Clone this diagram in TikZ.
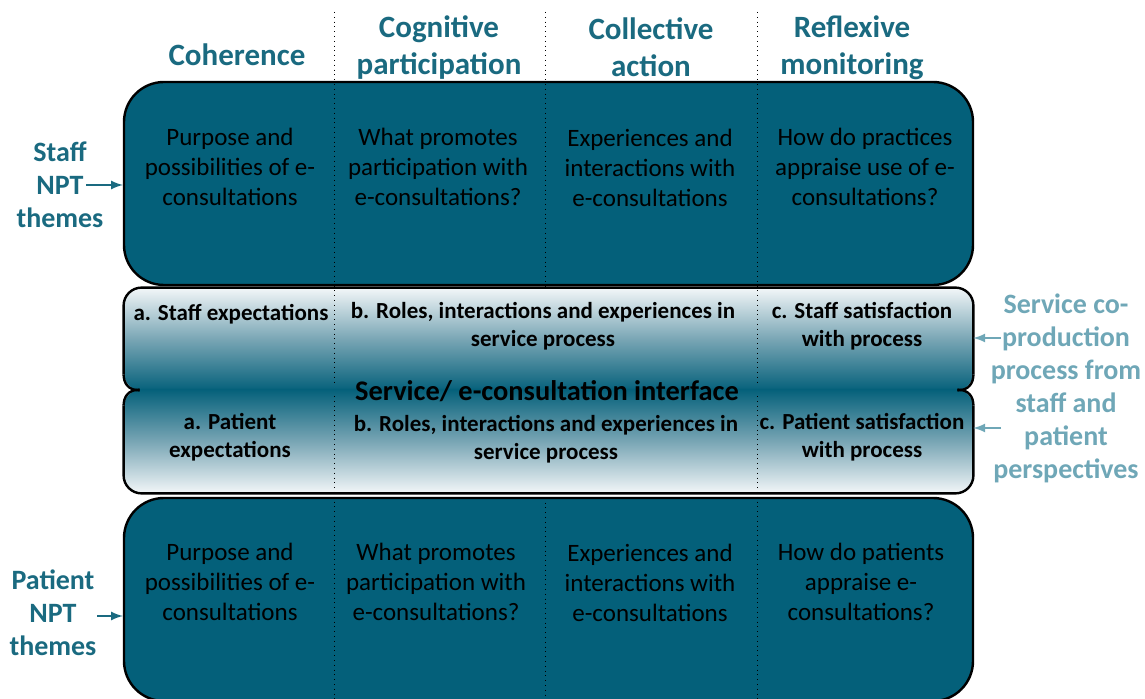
\documentclass[tikz,border=0pt]{standalone}
\usepackage{fontspec}
\setmainfont{Carlito}
\usepackage{tikz}
\usepackage{xcolor}
\usetikzlibrary{calc}

\definecolor{boxteal}{HTML}{04607A}
\definecolor{headteal}{HTML}{1A6A80}
\definecolor{paleteal}{HTML}{6FA7B7}
\definecolor{midteal}{HTML}{78A5B4}
\definecolor{nearwhite}{HTML}{F2F6F8}

\begin{document}
\begin{tikzpicture}[x=0.5pt,y=-0.5pt]
    \tikzstyle{every node}=[inner sep=0pt,align=center]
    \tikzstyle{head}=[font=\fontsize{15.5}{18.5}\selectfont\bfseries,text=headteal]
    \tikzstyle{cell}=[font=\fontsize{12.5}{15}\selectfont,text=black]
    \tikzstyle{midcell}=[font=\fontsize{11.5}{14.2}\selectfont\bfseries,text=black]
    \tikzstyle{sidelab}=[font=\fontsize{14}{16.5}\selectfont\bfseries]
    \tikzstyle{bigbox}=[draw=black,line width=1.2pt,fill=boxteal,rounded corners=20pt,minimum width=424.5pt,minimum height=101.5pt]
    \tikzstyle{midbox}=[rounded corners=9pt,minimum width=424.5pt]
    \tikzstyle{rim}=[black,line width=1.2pt]
    \tikzstyle{colline}=[black,dotted,line width=0.4pt]
    \tikzstyle{arr}=[->,>=latex,line width=1pt]

    \useasboundingbox (0,0) rectangle (1145,699);

    % boxes
    \node[bigbox] (staffbox) at (548.5,183.5) {};
    \node[midbox,minimum height=51.5pt,top color=nearwhite,bottom color=boxteal,middle color=midteal] (staffmid) at (548.5,339.5) {};
    \node[midbox,minimum height=52pt,top color=boxteal,bottom color=nearwhite,middle color=midteal] (patmid) at (548.5,441) {};
    \node[bigbox] (patbox) at (548.5,599.5) {};

    % outline of the two middle boxes, open where they meet
    \draw[rim,rounded corners=9pt] ($(staffmid.south west)+(0,-17)$) -- (staffmid.north west) -- (staffmid.north east) -- ($(staffmid.south east)+(0,-17)$);
    \draw[rim] ($(staffmid.south west)+(0,-17)$) .. controls +(0,8) and +(-12,0) .. ($(staffmid.south west)+(16,-1)$);
    \draw[rim] ($(staffmid.south east)+(0,-17)$) .. controls +(0,8) and +(12,0) .. ($(staffmid.south east)+(-16,-1)$);
    \draw[rim,rounded corners=9pt] ($(patmid.north west)+(0,17)$) -- (patmid.south west) -- (patmid.south east) -- ($(patmid.north east)+(0,17)$);
    \draw[rim] ($(patmid.north west)+(0,17)$) .. controls +(0,-8) and +(-12,0) .. ($(patmid.north west)+(16,1)$);
    \draw[rim] ($(patmid.north east)+(0,17)$) .. controls +(0,-8) and +(12,0) .. ($(patmid.north east)+(-16,1)$);

    % column lines
    \draw[colline] (334,12) -- (334,383);
    \draw[colline] (334,396) -- (334,699);
    \draw[colline] (757,12) -- (757,385);
    \draw[colline] (757,396) -- (757,699);
    \draw[colline] (545,12) -- (545,288);
    \draw[colline] (545,493) -- (545,699);

    % headers
    \node[head] (coh) at (237,55) {Coherence};
    \node[head] (cog) at (439,47.5) {Cognitive\\participation};
    \node[head] (col) at (651,47) {Collective\\action};
    \node[head] (ref) at (852,47.5) {Reflexive\\monitoring};

    % staff row
    \node[cell] (s1) at (230,167) {Purpose and\\possibilities of e-\\consultations};
    \node[cell] (s2) at (438,167) {What promotes\\participation with\\e-consultations?};
    \node[cell] (s3) at (650,168) {Experiences and\\interactions with\\e-consultations};
    \node[cell] (s4) at (865,167) {How do practices\\appraise use of e-\\consultations?};

    % interface
    \node[midcell] (sa) at (231,314) {a. Staff expectations};
    \node[midcell] (sb) at (543,326) {b. Roles, interactions and experiences in\\service process};
    \node[midcell] (sc) at (862,326) {c. Staff satisfaction\\with process};
    \node[font=\fontsize{14.2}{16}\selectfont\bfseries] (iface) at (547,391) {Service/ e-consultation interface};
    \node[midcell] (pa) at (230,437) {a. Patient\\expectations};
    \node[midcell] (pb) at (546,439) {b. Roles, interactions and experiences in\\service process};
    \node[midcell] (pc) at (862,437) {c. Patient satisfaction\\with process};

    % patient row
    \node[cell] (p1) at (230,582) {Purpose and\\possibilities of e-\\consultations};
    \node[cell] (p2) at (436,582) {What promotes\\participation with\\e-consultations?};
    \node[cell] (p3) at (650,583) {Experiences and\\interactions with\\e-consultations};
    \node[cell] (p4) at (861,582) {How do patients\\appraise e-\\consultations?};

    % side labels
    \node[sidelab,text=headteal] (staffnpt) at (60,185) {Staff\\NPT\\themes};
    \node[sidelab,text=headteal] (patnpt) at (53,613) {Patient\\NPT\\themes};
    \node[sidelab,text=paleteal] (coprod) at (1066,388) {Service co-\\production\\process from\\staff and\\patient\\perspectives};

    \coordinate (staffarr) at (86,185);
    \coordinate (patarr) at (97,616);
    \coordinate (coarr1) at (1001,338);
    \coordinate (coarr2) at (1001,428);
    \draw[arr,headteal] (staffarr) -- (staffarr -| staffbox.west);
    \draw[arr,headteal] (patarr) -- (patarr -| patbox.west);
    \draw[arr,paleteal] (coarr1) -- (coarr1 -| staffmid.east);
    \draw[arr,paleteal] (coarr2) -- (coarr2 -| patmid.east);

\end{tikzpicture}
\end{document}
